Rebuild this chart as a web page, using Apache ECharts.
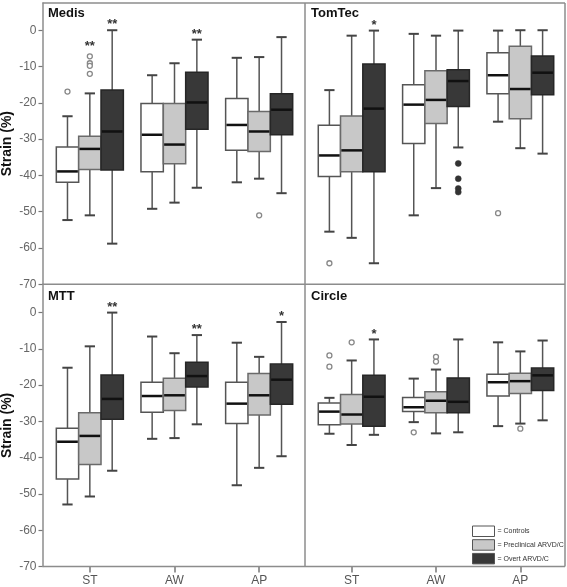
<!DOCTYPE html>
<html><head><meta charset="utf-8">
<script src="https://cdn.jsdelivr.net/npm/echarts@6/dist/echarts.min.js"></script>
<style>html,body{margin:0;padding:0;background:#fff}#c{width:567px;height:587px}</style>
</head><body><div id="c"></div>
<script>
const categories = ['ST', 'AW', 'AP'];
const groupNames = ['Controls', 'Preclinical ARVD/C', 'Overt ARVD/C'];
const yTicks = [-70, -60, -50, -40, -30, -20, -10, 0];
const panelTitles = ['Medis', 'TomTec', 'MTT', 'Circle'];

// [min, Q1, median, Q3, max] for ST, AW, AP
const medisControls     = [[-52.3, -41.9, -38.9, -32.2, -23.7], [-49.2, -39.0, -28.8, -20.2, -12.4], [-41.9, -33.1, -26.1, -18.8, -7.6]];
const medisPreclinical  = [[-51.0, -38.4, -32.7, -29.2, -17.4], [-47.5, -36.8, -31.5, -20.2, -9.1], [-40.9, -33.4, -27.9, -22.4, -7.4]];
const medisOvert        = [[-58.8, -38.5, -27.9, -16.5, 0.0], [-43.4, -27.3, -19.9, -11.6, -2.6], [-44.9, -28.8, -21.9, -17.5, -1.9]];

const tomtecControls    = [[-55.5, -40.3, -34.5, -26.2, -16.5], [-51.0, -31.2, -20.5, -15.0, -1.0], [-25.2, -17.5, -12.4, -6.2, -0.1]];
const tomtecPreclinical = [[-57.2, -39.0, -33.1, -23.6, -1.5], [-43.5, -25.7, -19.2, -11.2, -1.5], [-32.5, -24.4, -16.2, -4.4, 0.0]];
const tomtecOvert       = [[-64.2, -39.0, -21.6, -9.3, -0.1], [-32.3, -21.0, -14.0, -10.9, -0.1], [-34.0, -17.8, -11.7, -7.1, 0.0]];

const mttControls       = [[-52.9, -45.9, -35.6, -31.9, -15.2], [-34.8, -27.5, -23.0, -19.2, -6.6], [-47.6, -30.6, -25.1, -19.2, -8.3]];
const mttPreclinical    = [[-50.7, -41.9, -34.0, -27.6, -9.3], [-34.6, -27.0, -22.8, -18.1, -11.2], [-42.8, -28.2, -22.8, -16.8, -12.2]];
const mttOvert          = [[-43.6, -29.4, -23.8, -17.2, 0.0], [-30.8, -20.5, -17.5, -13.7, -6.2], [-39.6, -25.3, -18.5, -14.2, -2.6]];

const circleControls    = [[-33.4, -30.9, -27.3, -24.9, -23.5], [-30.2, -27.3, -26.1, -23.4, -18.2], [-31.3, -23.0, -19.2, -17.0, -8.2]];
const circlePreclinical = [[-36.5, -30.7, -28.1, -22.6, -13.2], [-33.3, -27.6, -24.3, -21.8, -15.7], [-30.6, -22.3, -18.9, -16.7, -10.7]];
const circleOvert       = [[-33.7, -31.3, -23.2, -17.3, -7.4], [-33.0, -27.6, -24.6, -18.0, -7.4], [-29.7, -21.5, -17.3, -15.3, -7.7]];

// outliers: [category index, value]
const medisControlsOut     = [[0, -16.9]];
const medisPreclinicalOut  = [[0, -7.2], [0, -9.1], [0, -9.8], [0, -12.0], [2, -51.0]];
const medisOvertOut        = [];
const tomtecControlsOut    = [[0, -64.2], [2, -50.4]];
const tomtecPreclinicalOut = [];
const tomtecOvertOut       = [[1, -36.7], [1, -40.9], [1, -43.6], [1, -44.6]];
const mttControlsOut       = [];
const mttPreclinicalOut    = [];
const mttOvertOut          = [];
const circleControlsOut    = [[0, -11.8], [0, -14.9], [1, -33.0]];
const circlePreclinicalOut = [[0, -8.2], [1, -12.2], [1, -13.5], [2, -32.0]];
const circleOvertOut       = [];

// significance marks [ST, AW, AP] per group
const medisSig  = [['', '', ''], ['**', '', ''], ['**', '**', '']];
const tomtecSig = [['', '', ''], ['', '', ''], ['*', '', '']];
const mttSig    = [['', '', ''], ['', '', ''], ['**', '**', '*']];
const circleSig = [['', '', ''], ['', '', ''], ['*', '', '']];

const panels = [
  { boxes: [medisControls, medisPreclinical, medisOvert], outs: [medisControlsOut, medisPreclinicalOut, medisOvertOut], sig: medisSig },
  { boxes: [tomtecControls, tomtecPreclinical, tomtecOvert], outs: [tomtecControlsOut, tomtecPreclinicalOut, tomtecOvertOut], sig: tomtecSig },
  { boxes: [mttControls, mttPreclinical, mttOvert], outs: [mttControlsOut, mttPreclinicalOut, mttOvertOut], sig: mttSig },
  { boxes: [circleControls, circlePreclinical, circleOvert], outs: [circleControlsOut, circlePreclinicalOut, circleOvertOut], sig: circleSig }
];

const FONT = 'Liberation Sans, Arial, sans-serif';
const fills = ['#ffffff', '#c8c8c8', '#383838'];
const strokes = ['#555555', '#6a6a6a', '#262626'];
const BOXF = 0.264;

function boxRender(g, outs, sig) {
  return function (params, api) {
    const idx = api.value(0);
    const band = api.size([1, 0])[0];
    const bw = band * BOXF;
    const cx = api.coord([idx, 0])[0] + (g - 1) * bw;
    const Y = v => api.coord([idx, v])[1];
    const yMin = Y(api.value(1)), yQ1 = Y(api.value(2)), yMed = Y(api.value(3)), yQ3 = Y(api.value(4)), yMax = Y(api.value(5));
    const cap = bw * 0.46;
    const wStyle = { stroke: '#555', lineWidth: 1.5 };
    const children = [
      { type: 'line', shape: { x1: cx, y1: yQ3, x2: cx, y2: yMax }, style: wStyle },
      { type: 'line', shape: { x1: cx, y1: yQ1, x2: cx, y2: yMin }, style: wStyle },
      { type: 'line', shape: { x1: cx - cap / 2, y1: yMax, x2: cx + cap / 2, y2: yMax }, style: { stroke: '#444', lineWidth: 2 } },
      { type: 'line', shape: { x1: cx - cap / 2, y1: yMin, x2: cx + cap / 2, y2: yMin }, style: { stroke: '#444', lineWidth: 2 } },
      { type: 'rect', shape: { x: cx - bw / 2, y: yQ3, width: bw, height: yQ1 - yQ3 }, style: { fill: fills[g], stroke: strokes[g], lineWidth: 1.5 } },
      { type: 'line', shape: { x1: cx - bw / 2 + 0.8, y1: yMed, x2: cx + bw / 2 - 0.8, y2: yMed }, style: { stroke: '#111', lineWidth: 2.5 } }
    ];
    const mark = sig[g][idx];
    if (mark) {
      let top = yMax;
      outs.forEach(o => { if (o[0] === idx) top = Math.min(top, Y(o[1]) - 4); });
      children.push({ type: 'text', x: cx, y: top - 5.5, style: { text: mark, fill: '#333', font: 'bold 13px ' + FONT, align: 'center', verticalAlign: 'middle' } });
    }
    return { type: 'group', children };
  };
}

function outRender(g) {
  return function (params, api) {
    const idx = api.value(0);
    const band = api.size([1, 0])[0];
    const bw = band * BOXF;
    const p = api.coord([idx, api.value(1)]);
    const cx = p[0] + (g - 1) * bw;
    if (g === 2) {
      return { type: 'circle', shape: { cx, cy: p[1], r: 3 }, style: { fill: '#333', stroke: '#333', lineWidth: 0.5 } };
    }
    return { type: 'circle', shape: { cx, cy: p[1], r: 2.5 }, style: { fill: '#fff', stroke: '#888', lineWidth: 1.3 } };
  };
}

const grids = [
  { left: 47.5, top: 3, width: 254, height: 281.3 },
  { left: 309.5, top: 3, width: 253, height: 281.3 },
  { left: 47.5, top: 284.3, width: 254, height: 282.2 },
  { left: 309.5, top: 284.3, width: 253, height: 282.2 }
];
const yMaxes = [7.5, 7.5, 7.8, 7.8];

const xAxes = grids.map((gr, i) => ({
  type: 'category', gridIndex: i, data: categories, boundaryGap: true, position: 'bottom',
  axisLine: { show: false, onZero: false },
  axisTick: { show: i >= 2, alignWithLabel: true, length: 6, lineStyle: { color: '#777', width: 1.5 } },
  axisLabel: { show: i >= 2, margin: 8, fontSize: 12, color: '#555', fontFamily: FONT },
  splitLine: { show: false }
}));
const yAxes = grids.map((gr, i) => {
  const left = (i % 2 === 0);
  return {
    type: 'value', gridIndex: i, min: -70, max: yMaxes[i],
    offset: left ? 5 : 0,
    name: left ? 'Strain (%)' : '', nameLocation: 'middle', nameGap: 28.5,
    nameTextStyle: { fontSize: 14, fontWeight: 'bold', color: '#111', fontFamily: FONT },
    axisLine: { show: left, onZero: false, lineStyle: { color: '#8c8c8c', width: 1.5 } },
    axisTick: { show: left, length: 4, customValues: yTicks, lineStyle: { color: '#777', width: 1.2 } },
    axisLabel: { show: left, customValues: yTicks, margin: 6, fontSize: 12, color: '#666', fontFamily: FONT },
    splitLine: { show: false }
  };
});

const series = [];
panels.forEach((pn, p) => {
  for (let g = 0; g < 3; g++) {
    series.push({
      type: 'custom', name: groupNames[g], xAxisIndex: p, yAxisIndex: p,
      renderItem: boxRender(g, pn.outs[g], pn.sig),
      itemStyle: { color: fills[g], borderColor: strokes[g] },
      encode: { x: 0, y: [1, 2, 3, 4, 5] },
      data: pn.boxes[g].map((d, i) => [i].concat(d)),
      silent: true, z: 3
    });
    series.push({
      type: 'custom', name: 'out' + p + '_' + g, xAxisIndex: p, yAxisIndex: p,
      renderItem: outRender(g),
      encode: { x: 0, y: 1 },
      data: pn.outs[g], silent: true, z: 4
    });
  }
});

const titlePos = [[48, 7], [311, 7], [48, 290], [311, 290]];
const titles = panelTitles.map((t, i) => ({
  text: t, left: titlePos[i][0], top: titlePos[i][1], padding: 0,
  textStyle: { fontSize: 13, fontWeight: 'bold', color: '#111', fontFamily: FONT }
}));

const FR = '#8c8c8c';
const frameLines = [
  [42.5, 3, 565, 3], [565, 3, 565, 566.5], [42.5, 566.5, 565, 566.5],
  [42.5, 284.3, 565, 284.3], [305, 3, 305, 566.5]
].map(l => ({ type: 'line', shape: { x1: l[0], y1: l[1], x2: l[2], y2: l[3] }, style: { stroke: FR, lineWidth: 1.5 }, z: 10, silent: true }));

const chart = echarts.init(document.getElementById('c'), null, { renderer: 'canvas' });
chart.setOption({
  animation: false,
  backgroundColor: '#ffffff',
  title: titles,
  grid: grids.map(g => Object.assign({ containLabel: false, outerBoundsMode: 'none' }, g)),
  xAxis: xAxes,
  yAxis: yAxes,
  legend: {
    orient: 'vertical', left: 472, top: 525.5, padding: 0,
    icon: 'rect', itemWidth: 22, itemHeight: 10.5, itemGap: 2.2,
    selectedMode: false, formatter: '= {name}',
    textStyle: { fontSize: 7, color: '#333', fontFamily: FONT, padding: [0, 0, 0, -2] },
    data: groupNames.map((n, g) => ({ name: n, itemStyle: { color: fills[g], borderColor: '#555', borderWidth: 1 } }))
  },
  graphic: frameLines,
  series: series
});
</script></body></html>
